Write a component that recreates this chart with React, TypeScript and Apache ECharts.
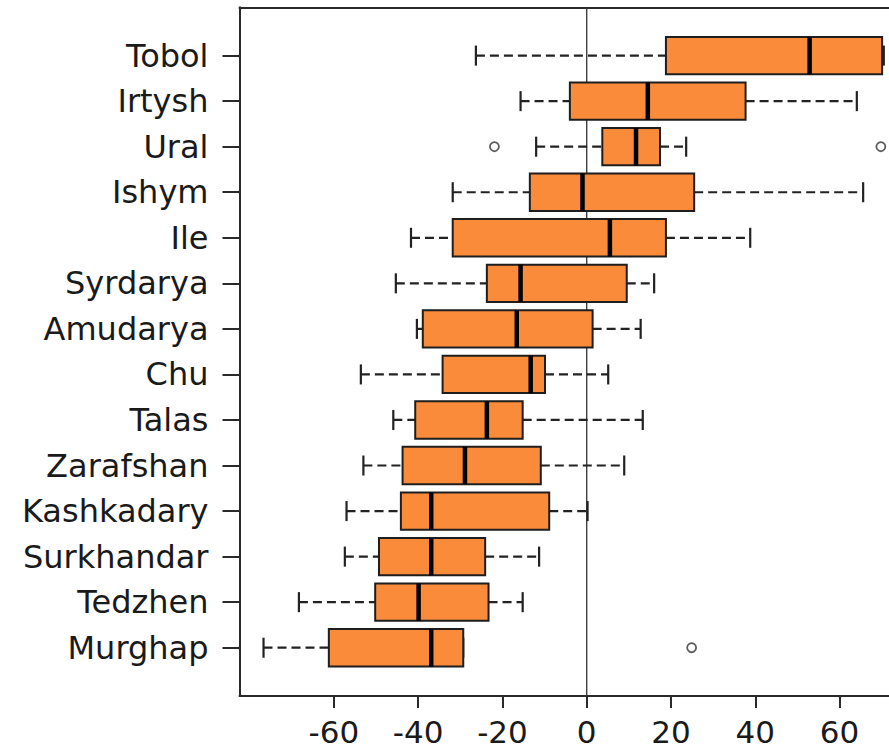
import React, { useEffect, useRef } from "react";
import * as echarts from "echarts";

// categories listed top to bottom
const categories = [
  "Tobol", "Irtysh", "Ural", "Ishym", "Ile", "Syrdarya", "Amudarya",
  "Chu", "Talas", "Zarafshan", "Kashkadary", "Surkhandar", "Tedzhen", "Murghap",
];
const lowWhisker = [-26.3, -15.7, -12.0, -31.8, -41.7, -45.3, -40.3, -53.6, -45.9, -53.0, -57.0, -57.4, -68.3, -76.7];
const q1 = [18.8, -4.0, 3.7, -13.5, -31.8, -23.7, -38.9, -34.2, -40.7, -43.7, -44.1, -49.3, -50.2, -61.2];
const median = [52.9, 14.5, 11.7, -1.0, 5.5, -15.7, -16.6, -13.3, -23.7, -28.9, -36.9, -36.9, -39.9, -36.9];
const q3 = [70.1, 37.7, 17.4, 25.5, 18.8, 9.5, 1.4, -9.9, -15.2, -10.9, -8.9, -24.1, -23.3, -29.3];
const highWhisker = [70.5, 64.1, 23.6, 65.6, 38.8, 16.0, 12.8, 5.1, 13.3, 8.9, 0.2, -11.3, -15.2, -29.3];
// outliers: [value, category name]
const outliers: [number, string][] = [
  [-21.9, "Ural"],
  [69.8, "Ural"],
  [24.9, "Murghap"],
];
const xTicks = [-60, -40, -20, 0, 20, 40, 60];

const n = categories.length;
const posOf = (name: string) => n - categories.indexOf(name);

export default function App() {
  const ref = useRef<HTMLDivElement>(null);
  useEffect(() => {
    if (!ref.current) return;
    const chart = echarts.init(ref.current, null, { renderer: "svg" });
    const boxData = categories.map((c, i) => [
      n - i, lowWhisker[i], q1[i], median[i], q3[i], highWhisker[i],
    ]);
    const outData = outliers.map(([v, c]) => [v, posOf(c)]);
    const font = "'DejaVu Sans', sans-serif";
    const option: any = {
      animation: false,
      backgroundColor: "#ffffff",
      grid: {
        left: 239.5,
        top: 7.3,
        right: -20.5,
        bottom: 58,
        containLabel: false,
        outerBoundsMode: "none",
        show: false,
      },
      xAxis: [
        {
          type: "value",
          min: -82.4,
          max: 76.6,
          position: "bottom",
          axisLine: { show: true, onZero: false, lineStyle: { color: "#2a2a2a", width: 2 } },
          axisTick: {
            show: true,
            length: 12,
            customValues: xTicks,
            lineStyle: { color: "#2a2a2a", width: 2 },
          },
          axisLabel: {
            show: true,
            customValues: xTicks,
            margin: 20,
            fontSize: 31,
            fontFamily: font,
            color: "#1a1a1a",
          },
          splitLine: { show: false },
        },
        {
          type: "value",
          min: -82.4,
          max: 76.6,
          position: "top",
          axisLine: { show: true, onZero: false, lineStyle: { color: "#2a2a2a", width: 2 } },
          axisTick: { show: false },
          axisLabel: { show: false },
          splitLine: { show: false },
        },
      ],
      yAxis: {
        type: "value",
        min: -0.06,
        max: 15.06,
        axisLine: { show: true, onZero: false, lineStyle: { color: "#2a2a2a", width: 2 } },
        axisTick: {
          show: true,
          length: 17,
          customValues: categories.map((_, i) => n - i),
          lineStyle: { color: "#2a2a2a", width: 2 },
        },
        axisLabel: {
          show: true,
          customValues: categories.map((_, i) => n - i),
          formatter: (v: number) => {
            const idx = n - Math.round(v);
            return categories[idx] ?? "";
          },
          margin: 31,
          fontSize: 32,
          fontFamily: font,
          color: "#1a1a1a",
        },
        splitLine: { show: false },
      },
      series: [
        {
          type: "line",
          data: [[0, -0.06], [0, 15.06]],
          symbol: "none",
          lineStyle: { color: "#333333", width: 1.3 },
          z: 1,
          silent: true,
        },
        {
          type: "custom",
          data: boxData,
          encode: { x: [1, 2, 3, 4, 5], y: 0 },
          z: 2,
          renderItem: (params: any, api: any) => {
            const y = api.value(0);
            const lo = api.coord([api.value(1), y]);
            const a = api.coord([api.value(2), y]);
            const m = api.coord([api.value(3), y]);
            const b = api.coord([api.value(4), y]);
            const hi = api.coord([api.value(5), y]);
            const unit = api.size([0, 1])[1];
            const bh = unit * 0.41;
            const sh = unit * 0.22;
            const cy = a[1];
            const dash = { stroke: "#222222", lineWidth: 2.2, lineDash: [9, 5] };
            const solid = { stroke: "#222222", lineWidth: 2.2 };
            return {
              type: "group",
              children: [
                { type: "line", shape: { x1: lo[0], y1: cy, x2: a[0], y2: cy }, style: dash },
                { type: "line", shape: { x1: b[0], y1: cy, x2: hi[0], y2: cy }, style: dash },
                { type: "line", shape: { x1: lo[0], y1: cy - sh, x2: lo[0], y2: cy + sh }, style: solid },
                { type: "line", shape: { x1: hi[0], y1: cy - sh, x2: hi[0], y2: cy + sh }, style: solid },
                {
                  type: "rect",
                  shape: { x: a[0], y: cy - bh, width: b[0] - a[0], height: 2 * bh },
                  style: { fill: "#F98B3B", stroke: "#1e1e1e", lineWidth: 2 },
                },
                {
                  type: "line",
                  shape: { x1: m[0], y1: cy - bh, x2: m[0], y2: cy + bh },
                  style: { stroke: "#000000", lineWidth: 4.5 },
                },
              ],
            };
          },
        },
        {
          type: "scatter",
          data: outData,
          symbol: "circle",
          symbolSize: 9,
          itemStyle: { color: "#ffffff", borderColor: "#333333", borderWidth: 1.8 },
          z: 3,
        },
      ],
    };
    chart.setOption(option);
    return () => chart.dispose();
  }, []);
  return (
    <div
      ref={ref}
      style={{ position: "absolute", left: 0, top: 0, width: 889, height: 754, background: "#fff" }}
    />
  );
}
